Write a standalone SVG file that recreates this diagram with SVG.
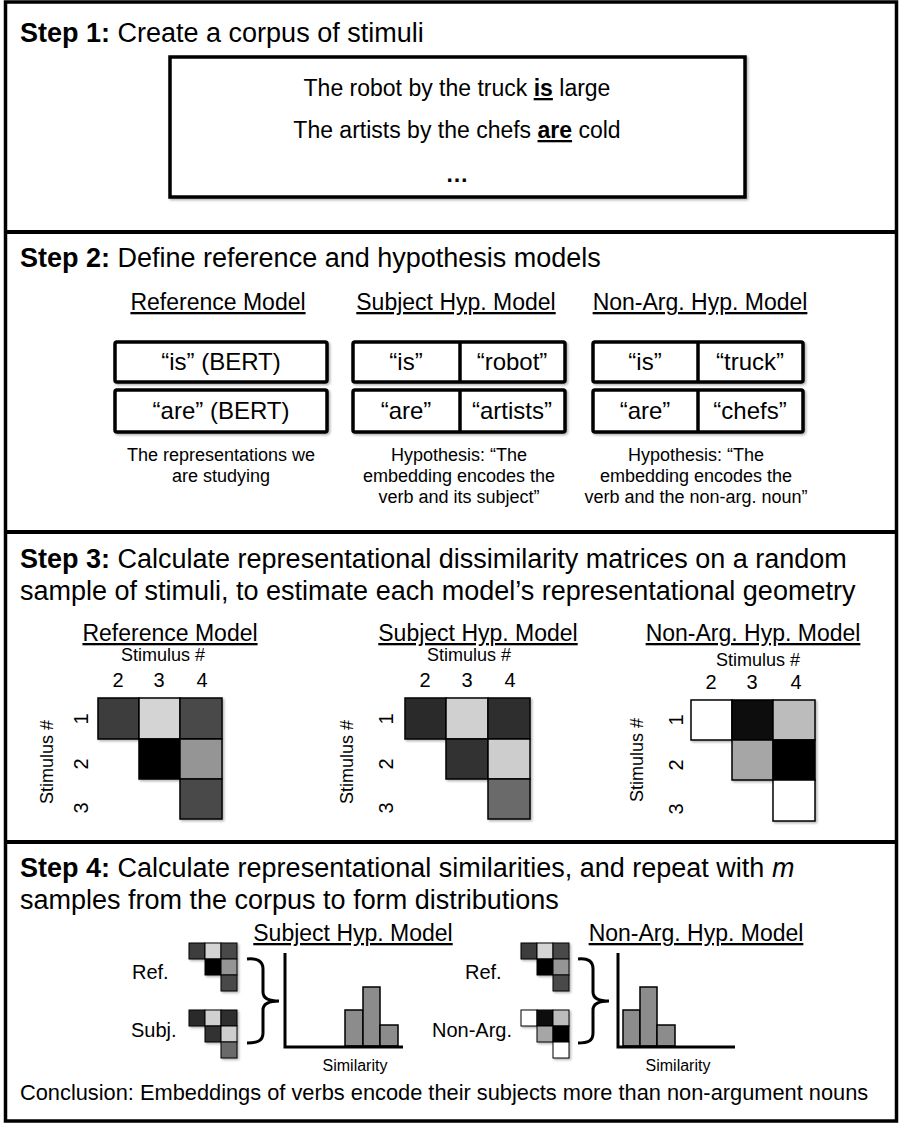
<svg xmlns="http://www.w3.org/2000/svg" width="901" height="1124" viewBox="0 0 901 1124">
<style>
text{font-family:"Liberation Sans",Arial,sans-serif;fill:#000}
.h{font-size:27px}
.b{font-weight:bold}
.mt{font-size:23px;text-anchor:middle;text-decoration:underline}
.bx{font-size:24px;text-anchor:middle}
.ds{font-size:18px;text-anchor:middle}
.st{font-size:18px;text-anchor:middle}
.dg{font-size:20px;text-anchor:middle}
.lb{font-size:20px}
.sim{font-size:16px;text-anchor:middle}
.box{fill:#fff;stroke:#000;stroke-width:3.5}
.cell{stroke:#000;stroke-width:1.5}
.sc{stroke:#000;stroke-width:1}
.bar{fill:#8c8c8c;stroke:#000;stroke-width:1.5}
.ax{fill:none;stroke:#000;stroke-width:3}
.br{fill:none;stroke:#000;stroke-width:3}
.div{stroke:#000;stroke-width:4}
</style>
<defs>
<filter id="sh" x="-10%" y="-10%" width="130%" height="130%"><feDropShadow dx="1.5" dy="1.5" stdDeviation="1" flood-opacity="0.3"/></filter>
</defs>
<rect x="0" y="0" width="901" height="1124" fill="#fff"/>
<g id="frame">
<rect x="5.5" y="2" width="891" height="1119" fill="#fff" stroke="#000" stroke-width="3.5"/>
<line class="div" x1="5" y1="232" x2="897" y2="232"/>
<line class="div" x1="5" y1="532" x2="897" y2="532"/>
<line class="div" x1="5" y1="842" x2="897" y2="842"/>
</g>

<g id="step1">
<text class="h" x="20" y="42"><tspan class="b">Step 1:</tspan> Create a corpus of stimuli</text>
<rect class="box" x="170" y="57" width="575" height="140" filter="url(#sh)"/>
<text x="457" y="96" font-size="23" text-anchor="middle">The robot by the truck <tspan class="b" text-decoration="underline">is</tspan> large</text>
<text x="457" y="138" font-size="23" text-anchor="middle">The artists by the chefs <tspan class="b" text-decoration="underline">are</tspan> cold</text>
<text x="457" y="182" font-size="23" font-weight="bold" text-anchor="middle">…</text>
</g>

<g id="step2">
<text class="h" x="20" y="267"><tspan class="b">Step 2:</tspan> Define reference and hypothesis models</text>
<g id="s2-ref">
<text class="mt" x="218" y="310">Reference Model</text>
<rect class="box" x="115" y="342" width="212" height="40" rx="2" filter="url(#sh)"/>
<rect class="box" x="115" y="390" width="212" height="42" rx="2" filter="url(#sh)"/>
<text class="bx" x="221" y="370">“is” (BERT)</text>
<text class="bx" x="221" y="419">“are” (BERT)</text>
<text class="ds" x="221" y="461">The representations we</text>
<text class="ds" x="221" y="482">are studying</text>
</g>
<g id="s2-subj">
<text class="mt" x="456" y="310">Subject Hyp. Model</text>
<rect class="box" x="353" y="342" width="212" height="40" rx="2" filter="url(#sh)"/>
<rect class="box" x="353" y="390" width="212" height="42" rx="2" filter="url(#sh)"/>
<line x1="460" y1="342" x2="460" y2="382" stroke="#000" stroke-width="3.5"/>
<line x1="460" y1="390" x2="460" y2="432" stroke="#000" stroke-width="3.5"/>
<text class="bx" x="406" y="370">“is”</text>
<text class="bx" x="512" y="370">“robot”</text>
<text class="bx" x="406" y="419">“are”</text>
<text class="bx" x="512" y="419">“artists”</text>
<text class="ds" x="459" y="461">Hypothesis: “The</text>
<text class="ds" x="459" y="482">embedding encodes the</text>
<text class="ds" x="459" y="503">verb and its subject”</text>
</g>
<g id="s2-nonarg">
<text class="mt" x="700" y="310">Non-Arg. Hyp. Model</text>
<rect class="box" x="593" y="342" width="210" height="40" rx="2" filter="url(#sh)"/>
<rect class="box" x="593" y="390" width="210" height="42" rx="2" filter="url(#sh)"/>
<line x1="698" y1="342" x2="698" y2="382" stroke="#000" stroke-width="3.5"/>
<line x1="698" y1="390" x2="698" y2="432" stroke="#000" stroke-width="3.5"/>
<text class="bx" x="645" y="370">“is”</text>
<text class="bx" x="750" y="370">“truck”</text>
<text class="bx" x="645" y="419">“are”</text>
<text class="bx" x="750" y="419">“chefs”</text>
<text class="ds" x="696" y="461">Hypothesis: “The</text>
<text class="ds" x="696" y="482">embedding encodes the</text>
<text class="ds" x="696" y="503">verb and the non-arg. noun”</text>
</g>
</g>

<g id="step3">
<text class="h" x="20" y="568"><tspan class="b">Step 3:</tspan> Calculate representational dissimilarity matrices on a random</text>
<text class="h" x="20" y="600">sample of stimuli, to estimate each model’s representational geometry</text>
<g id="s3-ref">
<text class="mt" x="170" y="641">Reference Model</text>
<text class="st" x="163" y="661">Stimulus #</text>
<text class="dg" x="118" y="687">2</text>
<text class="dg" x="159" y="687">3</text>
<text class="dg" x="202" y="687">4</text>
<text class="st" transform="rotate(-90 53 762)" x="53" y="762">Stimulus #</text>
<text class="dg" transform="rotate(-90 88 719)" x="88" y="719">1</text>
<text class="dg" transform="rotate(-90 88 764)" x="88" y="764">2</text>
<text class="dg" transform="rotate(-90 88 808)" x="88" y="808">3</text>
<g filter="url(#sh)">
<rect class="cell" x="98" y="698" width="41" height="41" fill="#3d3d3d"/>
<rect class="cell" x="139" y="698" width="41" height="41" fill="#d4d4d4"/>
<rect class="cell" x="180" y="698" width="42" height="41" fill="#4a4a4a"/>
<rect class="cell" x="139" y="739" width="41" height="40" fill="#000"/>
<rect class="cell" x="180" y="739" width="42" height="40" fill="#959595"/>
<rect class="cell" x="180" y="779" width="42" height="40" fill="#4a4a4a"/>
</g>
</g>
<g id="s3-subj">
<text class="mt" x="478" y="641">Subject Hyp. Model</text>
<text class="st" x="469" y="661">Stimulus #</text>
<text class="dg" x="425" y="687">2</text>
<text class="dg" x="467" y="687">3</text>
<text class="dg" x="510" y="687">4</text>
<text class="st" transform="rotate(-90 353 762)" x="353" y="762">Stimulus #</text>
<text class="dg" transform="rotate(-90 393 719)" x="393" y="719">1</text>
<text class="dg" transform="rotate(-90 393 764)" x="393" y="764">2</text>
<text class="dg" transform="rotate(-90 393 808)" x="393" y="808">3</text>
<g filter="url(#sh)">
<rect class="cell" x="405" y="698" width="41" height="41" fill="#2b2b2b"/>
<rect class="cell" x="446" y="698" width="42" height="41" fill="#d0d0d0"/>
<rect class="cell" x="488" y="698" width="42" height="41" fill="#2e2e2e"/>
<rect class="cell" x="446" y="739" width="42" height="40" fill="#333"/>
<rect class="cell" x="488" y="739" width="42" height="40" fill="#cdcdcd"/>
<rect class="cell" x="488" y="779" width="42" height="40" fill="#6b6b6b"/>
</g>
</g>
<g id="s3-nonarg">
<text class="mt" x="753" y="641">Non-Arg. Hyp. Model</text>
<text class="st" x="758" y="666">Stimulus #</text>
<text class="dg" x="711" y="689">2</text>
<text class="dg" x="752" y="689">3</text>
<text class="dg" x="796" y="689">4</text>
<text class="st" transform="rotate(-90 643 760)" x="643" y="760">Stimulus #</text>
<text class="dg" transform="rotate(-90 683 720)" x="683" y="720">1</text>
<text class="dg" transform="rotate(-90 683 765)" x="683" y="765">2</text>
<text class="dg" transform="rotate(-90 683 809)" x="683" y="809">3</text>
<g filter="url(#sh)">
<rect class="cell" x="691" y="700" width="41" height="40" fill="#fff"/>
<rect class="cell" x="732" y="700" width="41" height="40" fill="#111"/>
<rect class="cell" x="773" y="700" width="42" height="40" fill="#bcbcbc"/>
<rect class="cell" x="732" y="740" width="41" height="40" fill="#a6a6a6"/>
<rect class="cell" x="773" y="740" width="42" height="40" fill="#050505"/>
<rect class="cell" x="773" y="780" width="42" height="41" fill="#fff"/>
</g>
</g>
</g>

<g id="step4">
<text class="h" x="20" y="877"><tspan class="b">Step 4:</tspan> Calculate representational similarities, and repeat with <tspan font-style="italic">m</tspan></text>
<text class="h" x="20" y="909">samples from the corpus to form distributions</text>
<g id="s4-subj">
<text class="mt" x="353" y="941">Subject Hyp. Model</text>
<text class="lb" x="132" y="979">Ref.</text>
<text class="lb" x="131" y="1037">Subj.</text>
<g filter="url(#sh)">
<rect class="sc" x="189" y="943" width="16" height="16" fill="#3d3d3d"/>
<rect class="sc" x="205" y="943" width="16" height="16" fill="#d4d4d4"/>
<rect class="sc" x="221" y="943" width="16" height="16" fill="#4a4a4a"/>
<rect class="sc" x="205" y="959" width="16" height="16" fill="#000"/>
<rect class="sc" x="221" y="959" width="16" height="16" fill="#959595"/>
<rect class="sc" x="221" y="975" width="16" height="16" fill="#4a4a4a"/>
<rect class="sc" x="189" y="1010" width="16" height="16" fill="#2b2b2b"/>
<rect class="sc" x="205" y="1010" width="16" height="16" fill="#d0d0d0"/>
<rect class="sc" x="221" y="1010" width="16" height="16" fill="#2e2e2e"/>
<rect class="sc" x="205" y="1026" width="16" height="16" fill="#333"/>
<rect class="sc" x="221" y="1026" width="16" height="16" fill="#cdcdcd"/>
<rect class="sc" x="221" y="1042" width="16" height="16" fill="#6b6b6b"/>
</g>
<g id="hist-subj">
<rect class="bar" x="345" y="1010" width="18" height="36"/>
<rect class="bar" x="363" y="987" width="17" height="59"/>
<rect class="bar" x="380" y="1025" width="18" height="21"/>
<path class="ax" d="M285,953 V1047 H403"/>
<text class="sim" x="355" y="1071">Similarity</text>
</g>
</g>
<g id="s4-nonarg">
<text class="mt" x="696" y="941">Non-Arg. Hyp. Model</text>
<text class="lb" x="465" y="979">Ref.</text>
<text class="lb" x="432" y="1037">Non-Arg.</text>
<g filter="url(#sh)">
<rect class="sc" x="521" y="943" width="16" height="16" fill="#3d3d3d"/>
<rect class="sc" x="537" y="943" width="16" height="16" fill="#d4d4d4"/>
<rect class="sc" x="553" y="943" width="16" height="16" fill="#4a4a4a"/>
<rect class="sc" x="537" y="959" width="16" height="16" fill="#000"/>
<rect class="sc" x="553" y="959" width="16" height="16" fill="#959595"/>
<rect class="sc" x="553" y="975" width="16" height="16" fill="#4a4a4a"/>
<rect class="sc" x="521" y="1010" width="16" height="16" fill="#fff"/>
<rect class="sc" x="537" y="1010" width="16" height="16" fill="#111"/>
<rect class="sc" x="553" y="1010" width="16" height="16" fill="#bcbcbc"/>
<rect class="sc" x="537" y="1026" width="16" height="16" fill="#a6a6a6"/>
<rect class="sc" x="553" y="1026" width="16" height="16" fill="#050505"/>
<rect class="sc" x="553" y="1042" width="16" height="16" fill="#fff"/>
</g>
<g id="hist-nonarg">
<rect class="bar" x="623" y="1010" width="17" height="36"/>
<rect class="bar" x="640" y="987" width="17" height="59"/>
<rect class="bar" x="657" y="1025" width="18" height="21"/>
<path class="ax" d="M618,953 V1047 H735"/>
<text class="sim" x="678" y="1071">Similarity</text>
</g>
</g>
<text id="conclusion" x="20" y="1100" font-size="21.8">Conclusion: Embeddings of verbs encode their subjects more than non-argument nouns</text>
</g>

<g id="connectors">
<path class="br" d="M247,959 C257,958 263,961 263,969 L263,992 C263,998 268,1001 279,1001 C268,1001 263,1004 263,1010 L263,1033 C263,1041 257,1043 247,1043"/>
<path class="br" d="M578,959 C588,958 593,961 593,969 L593,992 C593,998 598,1001 609,1001 C598,1001 593,1004 593,1010 L593,1033 C593,1041 588,1043 578,1043"/>
</g>
</svg>
